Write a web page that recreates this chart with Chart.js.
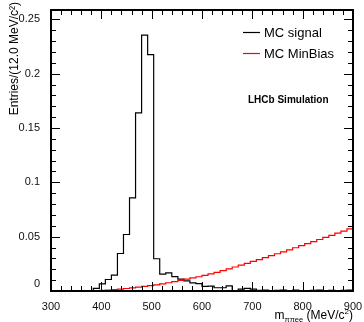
<!DOCTYPE html>
<html><head><meta charset="utf-8">
<script src="https://cdn.jsdelivr.net/npm/chart.js@4.4.0/dist/chart.umd.min.js"></script>
<style>html,body{margin:0;padding:0;background:#fff}#wrap{width:364px;height:322px;position:relative}</style>
</head><body><div id="wrap"><canvas id="c" width="364" height="322"></canvas></div>
<script>
const binLowEdges = [300,312,324,336,348,360,372,384,396,408,420,432,444,456,468,480,492,504,516,528,540,552,564,576,588,600,612,624,636,648,660,672,684,696,708,720,732,744,756,768,780,792,804,816,828,840,852,864,876,888];
const histEnd = 900;
const mcSignal = [0,0,0,0,0,0,0.0004,0.0025,0.0065,0.0106,0.0147,0.0345,0.052,0.0857,0.164,0.2355,0.2176,0.0297,0.0155,0.0166,0.0132,0.0109,0.0094,0.0075,0.0068,0.0042,0.0045,0.003,0.003,0.0048,0.0003,0.0018,0.0025,0.0018,0.0006,0.0008,0.0004,0.0006,0.0009,0.0003,0.0009,0.0002,0.0003,0.0006,0.0009,0.0003,0.0006,0.0002,0.0005,0.0008];
const mcMinBias = [0,0,0,0,0,0.0001,0.0002,0.0004,0.0006,0.0009,0.0013,0.0018,0.0023,0.0029,0.0035,0.0042,0.0049,0.0057,0.0066,0.0076,0.0087,0.0098,0.0109,0.0120,0.0131,0.0143,0.0157,0.0172,0.0188,0.0204,0.0221,0.0238,0.0255,0.0272,0.0289,0.0307,0.0325,0.0343,0.0361,0.0379,0.0398,0.0417,0.0436,0.0455,0.0474,0.0493,0.0512,0.0532,0.0552,0.0572];
const xTicks = [300,400,500,600,700,800,900];
const yTicks = [0,0.05,0.1,0.15,0.2,0.25];
const seriesLabels = ['MC signal','MC MinBias'];
const FONT = '"Liberation Sans", Arial, Helvetica, sans-serif';
const AXIS_COLOR = '#000000';

function toSteps(values){
  const pts = binLowEdges.map((x,i)=>({x:x, y:values[i]}));
  pts.push({x:histEnd, y:values[values.length-1]});
  return pts;
}

function drawFrame(chart){
  const ctx = chart.ctx, a = chart.chartArea;
  const xs = chart.scales.x, ys = chart.scales.y;
  const L = Math.round(a.left), R = Math.round(a.right), T = Math.round(a.top), B = Math.round(a.bottom);
  ctx.save();
  ctx.fillStyle = AXIS_COLOR;
  for(let i=0;i<=30;i++){
    const px = Math.round(xs.getPixelForValue(300 + i*20));
    const len = (i%5===0)?9:5;
    ctx.fillRect(px, B-len, 1, len);
    ctx.fillRect(px, T, 1, len);
  }
  for(let i=0;i<=25;i++){
    const py = Math.round(ys.getPixelForValue(i*0.01));
    const len = (i%5===0)?9:5;
    ctx.fillRect(L, py, len, 1);
    ctx.fillRect(R-len, py, len, 1);
  }
  ctx.fillRect(L-1, T-1, R-L+2, 2);
  ctx.fillRect(L-1, B-1, R-L+2, 2);
  ctx.fillRect(L-1, T-1, 2, B-T+2);
  ctx.fillRect(R-1, T-1, 2, B-T+2);
  ctx.restore();
}

function drawTexts(chart){
  const ctx = chart.ctx, a = chart.chartArea;
  ctx.save();
  ctx.fillStyle = '#000';
  ctx.save();
  ctx.translate(15, 2);
  ctx.rotate(-Math.PI/2);
  ctx.font = '12px '+FONT;
  ctx.textAlign = 'right'; ctx.textBaseline = 'middle';
  ctx.fillText('Entries/(12.0 MeV/c\u00B2)', 0, 0);
  ctx.restore();
  const parts = [
    {t:'m', f:12, dy:0},
    {t:'\u03C0\u03C0ee', f:7.5, dy:3},
    {t:' (MeV/c', f:12, dy:0},
    {t:'2', f:8, dy:-5},
    {t:')', f:12, dy:0}
  ];
  let total = 0;
  parts.forEach(p=>{ctx.font = p.f+'px '+FONT; p.w = ctx.measureText(p.t).width; total += p.w;});
  let x = a.right - total; const base = 319;
  ctx.textAlign='left'; ctx.textBaseline='alphabetic';
  parts.forEach(p=>{ctx.font = p.f+'px '+FONT; ctx.fillText(p.t, x, base+p.dy); x += p.w;});
  const ds = chart.data.datasets;
  const legY = [32, 53];
  ds.forEach((d,i)=>{
    ctx.strokeStyle = d.borderColor; ctx.lineWidth = 1.2;
    ctx.beginPath(); ctx.moveTo(243, legY[i]+0.5); ctx.lineTo(260, legY[i]+0.5); ctx.stroke();
    ctx.font = '13px '+FONT; ctx.textAlign='left'; ctx.textBaseline='middle';
    ctx.fillText(d.label, 264, legY[i]+1);
  });
  ctx.font = 'bold 10px '+FONT; ctx.textBaseline='middle';
  ctx.fillText('LHCb Simulation', 248, 100);
  ctx.restore();
}

const decorPlugin = {
  id:'decor',
  afterDraw(chart){
    drawFrame(chart);
    drawTexts(chart);
  }
};

new Chart(document.getElementById('c'), {
  type:'line',
  data:{
    datasets:[
      {label:seriesLabels[0], data:toSteps(mcSignal), borderColor:'#000000', borderWidth:1.2, stepped:'before', pointRadius:0, fill:false, order:1},
      {label:seriesLabels[1], data:toSteps(mcMinBias), borderColor:'#ff0000', borderWidth:1.2, stepped:'before', pointRadius:0, fill:false, order:0}
    ]
  },
  options:{
    responsive:false, animation:false,
    layout:{padding:{left:0,right:11,top:5,bottom:0}},
    plugins:{legend:{display:false}, tooltip:{enabled:false}},
    scales:{
      x:{type:'linear', min:300, max:900,
        grid:{display:false}, border:{display:false},
        afterBuildTicks:s=>{s.ticks = xTicks.map(v=>({value:v}));},
        afterFit:s=>{s.height = 31;},
        ticks:{autoSkip:false, maxRotation:0, padding:1, color:'#111', font:{family:FONT, size:11}}
      },
      y:{type:'linear', min:0, max:0.259,
        grid:{display:false}, border:{display:false},
        afterBuildTicks:s=>{s.ticks = yTicks.map(v=>({value:v}));},
        afterFit:s=>{s.width = 51;},
        ticks:{padding:3, color:'#111', font:{family:FONT, size:11},
          callback:v=> v===0 ? ['0',''] : String(parseFloat(v.toFixed(2)))}
      }
    }
  },
  plugins:[decorPlugin]
});
</script></body></html>
